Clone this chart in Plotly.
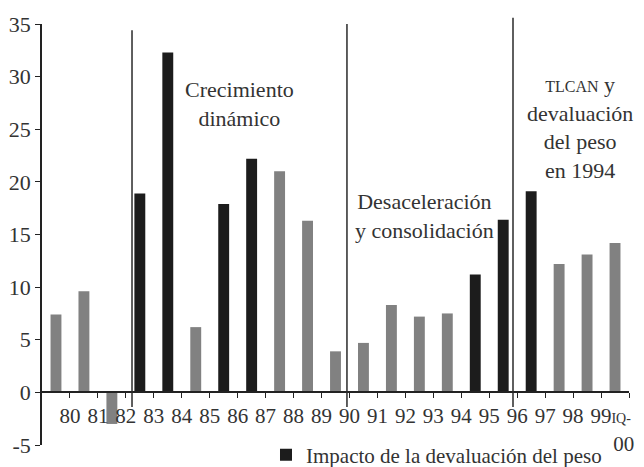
import plotly.graph_objects as go

# ---- data ----
categories = ["80", "81", "82", "83", "84", "85", "86", "87", "88", "89", "90",
              "91", "92", "93", "94", "95", "96", "97", "98", "99", "IQ-00"]
values = [7.4, 9.6, -3.0, 18.9, 32.3, 6.2, 17.9, 22.2, 21.0, 16.3, 3.9,
          4.7, 8.3, 7.2, 7.5, 11.2, 16.4, 19.1, 12.2, 13.1, 14.2]
impact = [0, 0, 0, 1, 1, 0, 1, 1, 0, 0, 0,
          0, 0, 0, 0, 1, 1, 1, 0, 0, 0]
tick_labels = ["80", "81", "82", "83", "84", "85", "86", "87", "88", "89", "90",
               "91", "92", "93", "94", "95", "96", "97", "98", "99",
               "<span style='font-size:14px'>IQ-</span>&nbsp;&nbsp;&nbsp;<br>00&nbsp;&nbsp;"]
y_ticks = [-5, 0, 5, 10, 15, 20, 25, 30, 35]
y_tick_labels = ["-5", "0", "5", "10", "15", "20", "25", "30", "35"]
period_lines_x = [2.72, 10.41, 16.35]
period_lines_top = [34.4, 35.0, 35.6]
period_lines_bottom = -1.4
legend_name = "Impacto de la devaluación del peso"

FONT = "Liberation Serif"
TXT = "#333333"
Y_MIN, Y_MAX = -5, 35

idx = list(range(len(categories)))
gray_y = [v if f == 0 else None for v, f in zip(values, impact)]
dark_y = [v if f == 1 else None for v, f in zip(values, impact)]

fig = go.Figure()
fig.add_trace(go.Bar(x=idx, y=gray_y, width=0.39, marker_color="#818181",
                     marker_line_width=0, showlegend=False, name="Otros"))
fig.add_trace(go.Bar(x=idx, y=dark_y, width=0.39, marker_color="#1c1c1c",
                     marker_line_width=0, showlegend=True, name=legend_name))

def to_paper(v):
    return (v - Y_MIN) / (Y_MAX - Y_MIN)

for xv, top in zip(period_lines_x, period_lines_top):
    fig.add_shape(type="line", xref="x", yref="paper",
                  x0=xv, x1=xv, y0=to_paper(period_lines_bottom), y1=to_paper(top),
                  line=dict(color="#2a2a2a", width=1.5))

ann_font = dict(family=FONT, size=22, color=TXT)
fig.add_annotation(x=6.57, y=27.4, xref="x", yref="y", showarrow=False,
                   text="Crecimiento<br>dinámico", font=ann_font, align="center")
fig.add_annotation(x=13.2, y=16.8, xref="x", yref="y", showarrow=False,
                   text="Desaceleración<br>y consolidación", font=ann_font, align="center")
fig.add_annotation(x=18.73, y=25.2, xref="x", yref="y", showarrow=False,
                   text="<span style='font-size:16px'>TLCAN</span> y<br>devaluación<br>del peso<br>en 1994",
                   font=ann_font, align="center")

fig.update_layout(
    width=644, height=467,
    margin=dict(l=42, r=15, t=24, b=22, autoexpand=False),
    plot_bgcolor="white", paper_bgcolor="white",
    barmode="overlay",
    font=dict(family=FONT, color=TXT, size=21),
    xaxis=dict(
        range=[-0.5, len(categories) - 0.5],
        tickmode="array",
        tickvals=[i + 0.5 for i in idx],
        ticktext=tick_labels,
        tickangle=0,
        ticks="outside", ticklen=5, tickwidth=1.2, tickcolor="#222",
        showline=True, linecolor="#222", linewidth=1.5,
        showgrid=False, zeroline=False, automargin=False,
        ticklabeloverflow="allow",
        anchor="free", position=to_paper(0),
        tickfont=dict(family=FONT, size=21, color=TXT),
    ),
    yaxis=dict(
        range=[Y_MIN, Y_MAX],
        tickmode="array",
        tickvals=y_ticks, ticktext=y_tick_labels,
        ticks="outside", ticklen=5, tickwidth=1.2, tickcolor="#222",
        showline=True, linecolor="#222", linewidth=1.5,
        showgrid=False, zeroline=False, automargin=False,
        ticklabeloverflow="allow",
        tickfont=dict(family=FONT, size=22, color=TXT),
    ),
    legend=dict(x=0.3816, xanchor="left", y=-0.024, yanchor="middle",
                bgcolor="rgba(0,0,0,0)", font=dict(family=FONT, size=21, color=TXT)),
)

fig.write_html("out.html", config={"displayModeBar": False},
               post_script="document.body.style.margin='0';document.body.style.overflow='hidden';")
